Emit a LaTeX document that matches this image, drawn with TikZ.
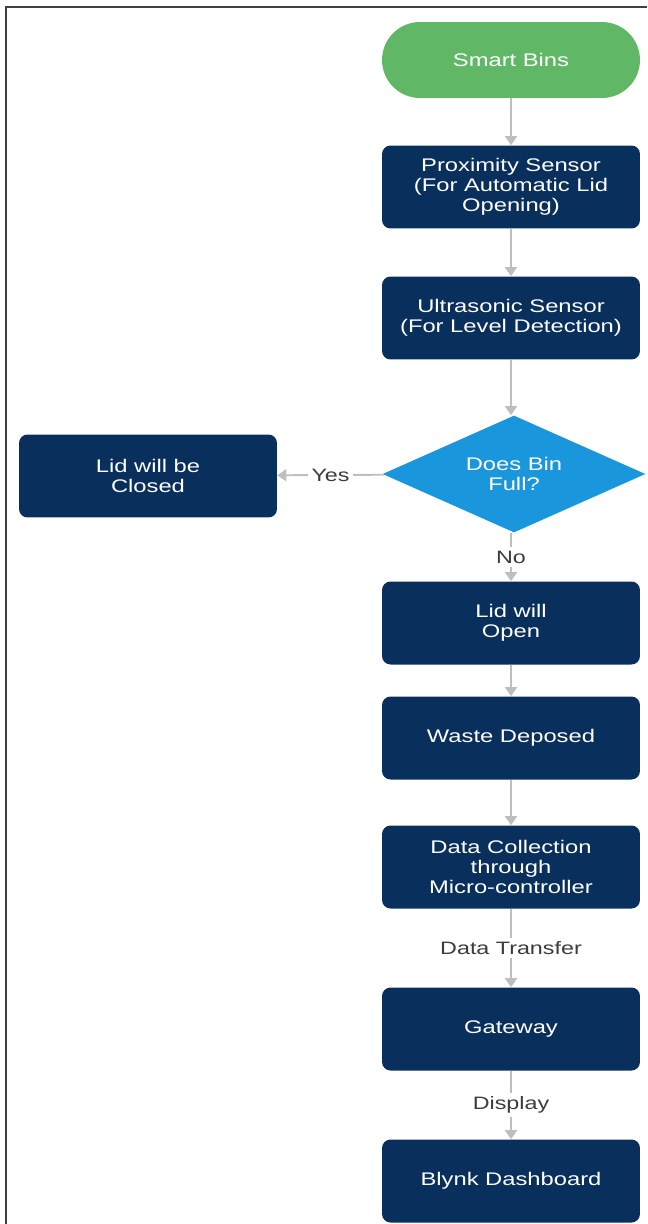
\documentclass[tikz,border=0pt]{standalone}
\usepackage{fontspec}
\setmainfont[FakeStretch=1.3]{Liberation Sans}
\usetikzlibrary{shapes.geometric,arrows.meta,positioning}
\definecolor{navy}{RGB}{9,47,92}
\definecolor{startgreen}{RGB}{96,184,102}
\definecolor{askblue}{RGB}{26,150,220}
\definecolor{linegray}{RGB}{190,190,190}
\definecolor{labelgray}{RGB}{60,60,60}
\begin{document}
\begin{tikzpicture}[x=0.02cm, y=-0.02cm,
    box/.style={rectangle, rounded corners=0.17cm, fill=navy, text=white, align=center,
        minimum width=5.16cm, minimum height=1.66cm, font=\fontsize{10.4}{11.4}\selectfont},
    term/.style={rectangle, rounded corners=0.76cm, fill=startgreen, text=white,
        minimum width=5.16cm, minimum height=1.52cm, font=\fontsize{10.4}{11.4}\selectfont},
    decision/.style={diamond, shape aspect=2.25, fill=askblue, text=white, align=center, inner sep=0pt,
        minimum width=5.26cm, minimum height=2.34cm, font=\fontsize{10.4}{11.4}\selectfont},
    flow/.style={draw=linegray, line width=1.1pt, -{Triangle[width=0.24cm,length=0.18cm]}},
    lbl/.style={fill=white, text=labelgray, inner sep=2pt, font=\fontsize{10.2}{11.4}\selectfont}]
    \useasboundingbox (0,0) rectangle (647,1224);
    \draw[black!75, line width=0.8pt] (6,1224) -- (6,7) -- (647,7);

    \node[term] (S) at (511,60) {Smart Bins};
    \node[box] (P) at (511,187) {Proximity Sensor\\(For Automatic Lid\\Opening)};
    \node[box] (U) at (511,318) {Ultrasonic Sensor\\(For Level Detection)};
    \node[decision] (D) at (514,474) {Does Bin\\Full?};
    \node[box] (C) at (148,476) {Lid will be\\Closed};
    \node[box] (O) at (511,623) {Lid will\\Open};
    \node[box] (W) at (511,738) {Waste Deposed};
    \node[box] (M) at (511,867) {Data Collection\\through\\Micro-controller};
    \node[box] (G) at (511,1029) {Gateway};
    \node[box] (B) at (511,1181) {Blynk Dashboard};

    \draw[flow] (S) -- (P);
    \draw[flow] (P) -- (U);
    \draw[flow] (U.south) -- (U.south |- D.north);
    \draw[flow] (D) -- node[lbl] {Yes} (C);
    \draw[flow] (D.south -| O.north) -- node[lbl] {No} (O);
    \draw[flow] (O) -- (W);
    \draw[flow] (W) -- (M);
    \draw[flow] (M) -- node[lbl] {Data Transfer} (G);
    \draw[flow] (G) -- node[lbl] {Display} (B);
\end{tikzpicture}
\end{document}
